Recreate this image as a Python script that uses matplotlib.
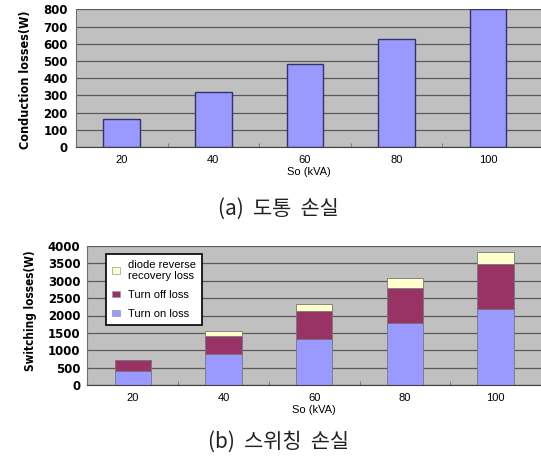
import numpy as np
import matplotlib
matplotlib.use("Agg")
import matplotlib.pyplot as plt
from matplotlib.patches import Patch

# data
so_kva = ["20", "40", "60", "80", "100"]
conduction = [160, 320, 480, 630, 800]
turn_on = [410, 880, 1320, 1775, 2200]
turn_off = [320, 520, 800, 1030, 1270]
diode_rr = [0, 140, 210, 265, 370]

grid_c = "#5a5a5a"
bg = "#c0c0c0"
c_on = "#9999ff"
c_off = "#993366"
c_diode = "#ffffcc"

fig = plt.figure(figsize=(5.41, 4.57), dpi=100)
x = np.arange(len(so_kva))


def style_axes(ax, xmax):
    ax.set_facecolor(bg)
    ax.set_xlim(-0.5, xmax)
    ax.set_axisbelow(True)
    ax.yaxis.grid(True, color=grid_c, lw=0.9)
    for s in ["top", "right"]:
        ax.spines[s].set_visible(False)
    ax.spines["left"].set_color("#707070")
    ax.spines["bottom"].set_color("#404040")
    ax.set_xticks(x)
    ax.set_xticklabels(so_kva, family="Liberation Sans", fontsize=8)
    ax.set_xticks(x[:-1] + 0.5, minor=True)
    ax.tick_params(axis="x", which="major", length=0, pad=6)
    ax.tick_params(axis="x", which="minor", length=3, direction="in", color="#707070")
    ax.tick_params(axis="y", length=0, pad=6)
    for t in ax.get_yticklabels():
        t.set_fontweight("bold")
        t.set_fontsize(8.5)
    ax.set_xlabel("So (kVA)", family="Liberation Sans", fontsize=8, labelpad=1)


# (a) conduction losses
ax1 = fig.add_axes([76 / 541, 1 - 147 / 457, 465 / 541, 137.7 / 457])
ax1.bar(x, conduction, width=0.4, color=c_on, edgecolor="#333366", lw=1.0)
ax1.set_ylim(0, 800)
ax1.set_yticks(range(0, 801, 100))
style_axes(ax1, 4.58)
fig.text(26 / 541, 1 - 80 / 457, "Conduction losses(W)", rotation=90,
         ha="center", va="center", fontsize=9, fontweight="bold",
         family="DejaVu Sans", fontstretch="condensed")
fig.text(278 / 541, 1 - 209 / 457, "(a)  도통  손실", ha="center", va="center",
         fontsize=15, family=["Noto Sans CJK KR", "DejaVu Sans"], color="#222222")

# (b) switching losses
ax2 = fig.add_axes([87.3 / 541, 1 - 385 / 457, 453.7 / 541, 139 / 457])
ax2.bar(x, turn_on, width=0.4, color=c_on, edgecolor="#777777", lw=0.6)
ax2.bar(x, turn_off, width=0.4, bottom=turn_on, color=c_off, edgecolor="#777777", lw=0.6)
tops = np.array(turn_on) + np.array(turn_off)
ax2.bar(x, diode_rr, width=0.4, bottom=tops, color=c_diode, edgecolor="#777777", lw=0.6)
ax2.set_ylim(0, 4000)
ax2.set_yticks(range(0, 4001, 500))
style_axes(ax2, 4.5)
ax2.tick_params(axis="y", pad=5)
fig.text(31 / 541, 1 - 311 / 457, "Switching losses(W)", rotation=90,
         ha="center", va="center", fontsize=8.5, fontweight="bold",
         family="DejaVu Sans", fontstretch="condensed")

handles = [Patch(facecolor=c_diode, edgecolor="#999999", lw=0.5),
           Patch(facecolor=c_off, edgecolor="#999999", lw=0.5),
           Patch(facecolor=c_on, edgecolor="#999999", lw=0.5)]
labels = ["diode reverse\nrecovery loss", "Turn off loss", "Turn on loss"]
leg = ax2.legend(handles, labels, loc="upper left", bbox_to_anchor=(0.041, 0.945),
                 borderaxespad=0, fancybox=False, framealpha=1, edgecolor="black",
                 prop={"family": "Liberation Sans", "size": 8},
                 handlelength=0.7, handleheight=0.5, handletextpad=0.7,
                 labelspacing=0.8, borderpad=0.55)
leg.get_frame().set_linewidth(1.2)

fig.text(278 / 541, 1 - 442 / 457, "(b)  스위칭  손실", ha="center", va="center",
         fontsize=15, family=["Noto Sans CJK KR", "DejaVu Sans"], color="#222222")

fig.savefig("out.png", dpi=100)
